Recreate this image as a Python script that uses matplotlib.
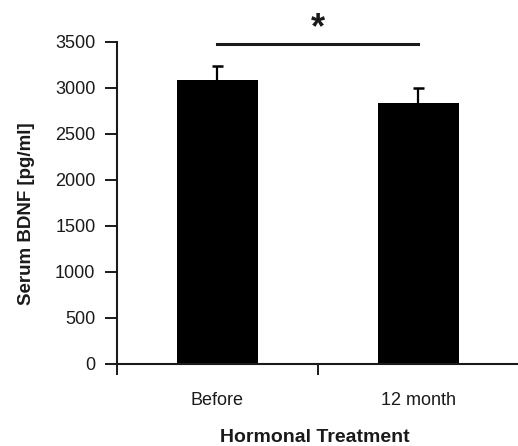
import matplotlib
matplotlib.use("Agg")
import matplotlib.pyplot as plt
import numpy as np

plt.rcParams['font.family'] = ['Liberation Sans', 'DejaVu Sans']

# serum BDNF before and after 12 months of hormonal treatment
groups = ["Before", "12 month"]
bdnf_mean = [3085, 2840]
bdnf_err = [155, 155]
sig_level = 3480
yticks = [0, 500, 1000, 1500, 2000, 2500, 3000, 3500]

ink = "#1a1a1a"
fig = plt.figure(figsize=(5.18, 4.46), dpi=100)
ax = fig.add_axes([117 / 518, 1 - 364 / 446, 402 / 518, 322 / 446])

x = np.arange(len(groups))
mean = np.array(bdnf_mean)
err = np.array(bdnf_err)
ax.bar(x, mean, width=0.4, color="black", zorder=2)
# upper error bars only
ax.vlines(x, mean, mean + err, color="black", lw=1.6, zorder=1)
ax.hlines(mean + err, x - 0.028, x + 0.028, color="black", lw=1.8, zorder=1)

ax.set_xlim(-0.5, 1.5)
ax.set_ylim(0, 3500)
ax.set_yticks(yticks)
ax.tick_params(axis="y", direction="out", length=8.5, width=1.4, colors=ink,
               labelsize=13, pad=7)

# boundary ticks below the axis, group names between them
ax.set_xticks([-0.5, 0.5, 1.5])
ax.set_xticklabels([])
ax.set_xticks(x, minor=True)
ax.set_xticklabels(groups, minor=True)
ax.tick_params(axis="x", which="major", direction="out", length=8, width=1.4,
               colors=ink)
ax.tick_params(axis="x", which="minor", length=0, labelsize=13, pad=20,
               labelcolor=ink)

for side in ["top", "right"]:
    ax.spines[side].set_visible(False)
for side in ["left", "bottom"]:
    ax.spines[side].set_linewidth(1.5)
    ax.spines[side].set_color(ink)

ax.set_ylabel("Serum BDNF [pg/ml]", fontsize=13.5, fontweight="bold", color=ink)
ax.yaxis.set_label_coords(-0.226, 0.466)
ax.yaxis.label.set_va("center")
ax.set_xlabel("Hormonal Treatment", fontsize=14, fontweight="bold", color=ink)
ax.xaxis.set_label_coords(0.4925, -0.227)
ax.xaxis.label.set_va("center")

# significance bracket
ax.plot(x, [sig_level, sig_level], color=ink, lw=2.2, clip_on=False)
ax.text(0.5, sig_level + 160, "*", ha="center", va="center", fontsize=26,
        fontweight="bold", color=ink)

fig.savefig("out.png", dpi=100)
